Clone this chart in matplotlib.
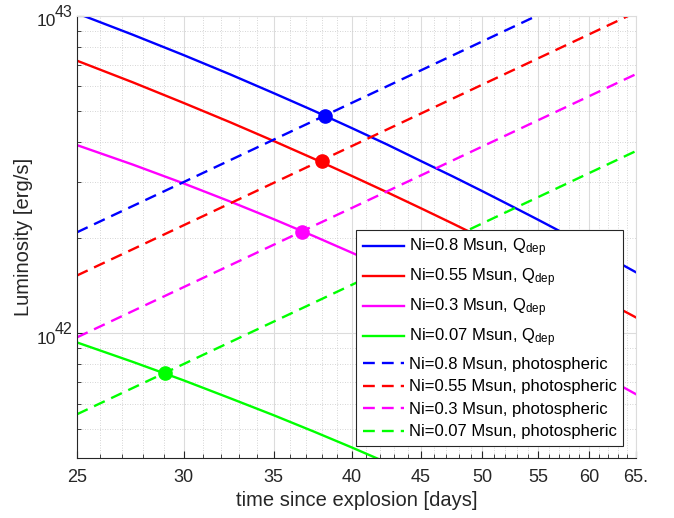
import matplotlib
matplotlib.use('Agg')
import matplotlib.pyplot as plt
from matplotlib.ticker import FixedLocator, NullFormatter

plt.rcParams['font.family'] = ['Liberation Sans', 'DejaVu Sans']
plt.rcParams['mathtext.fontset'] = 'custom'
plt.rcParams['mathtext.rm'] = 'Liberation Sans'
plt.rcParams['mathtext.it'] = 'Liberation Sans:italic'

# days since explosion
days = [25, 27.5, 30, 32.5, 35, 37.5, 40, 42.5, 45, 47.5, 50, 52.5, 55, 57.5, 60, 62.5, 65]

# deposited luminosity Q_dep [erg/s]
qdep_08 = [1.020e43, 8.73e42, 7.53e42, 6.54e42, 5.71e42, 5.02e42, 4.43e42, 3.93e42, 3.49e42,
           3.124e42, 2.802e42, 2.521e42, 2.277e42, 2.062e42, 1.873e42, 1.705e42, 1.556e42]
qdep_055 = [7.23e42, 6.18e42, 5.32e42, 4.62e42, 4.034e42, 3.544e42, 3.130e42, 2.779e42, 2.477e42,
            2.218e42, 1.993e42, 1.797e42, 1.626e42, 1.475e42, 1.343e42, 1.225e42, 1.121e42]
qdep_03 = [3.917e42, 3.401e42, 2.966e42, 2.598e42, 2.287e42, 2.021e42, 1.793e42, 1.597e42, 1.427e42,
           1.279e42, 1.150e42, 1.037e42, 9.376e41, 8.50e41, 7.725e41, 7.036e41, 6.42e41]
qdep_007 = [9.35e41, 8.12e41, 7.10e41, 6.23e41, 5.51e41, 4.89e41, 4.36e41, 3.90e41, 3.50e41,
            3.16e41, 2.86e41, 2.59e41, 2.36e41, 2.15e41, 1.97e41, 1.80e41, 1.66e41]

# photospheric luminosity [erg/s]
phot_08 = [2.08e42, 2.517e42, 2.995e42, 3.515e42, 4.077e42, 4.68e42, 5.325e42, 6.011e42, 6.739e42,
           7.509e42, 8.32e42, 9.173e42, 1.0067e43, 1.100e43, 1.198e43, 1.300e43, 1.406e43]
phot_055 = [1.52e42, 1.839e42, 2.189e42, 2.569e42, 2.979e42, 3.42e42, 3.891e42, 4.393e42, 4.925e42,
            5.487e42, 6.08e42, 6.703e42, 7.357e42, 8.041e42, 8.755e42, 9.5e42, 1.0275e43]
phot_03 = [9.7e41, 1.174e42, 1.397e42, 1.639e42, 1.901e42, 2.183e42, 2.483e42, 2.803e42, 3.143e42,
           3.502e42, 3.88e42, 4.278e42, 4.695e42, 5.131e42, 5.587e42, 6.063e42, 6.557e42]
phot_007 = [5.55e41, 6.716e41, 7.992e41, 9.38e41, 1.088e42, 1.249e42, 1.421e42, 1.604e42, 1.798e42,
            2.004e42, 2.22e42, 2.448e42, 2.686e42, 2.936e42, 3.197e42, 3.469e42, 3.752e42]

# crossing points
cross_t = [38.2, 38.0, 36.7, 29.05]
cross_L = [4.85e42, 3.48e42, 2.09e42, 7.48e41]

labels = ['0.8', '0.55', '0.3', '0.07']
colors = ['#0000ff', '#ff0000', '#ff00ff', '#00ff00']
qdeps = [qdep_08, qdep_055, qdep_03, qdep_007]
phots = [phot_08, phot_055, phot_03, phot_007]

dark = '#262626'

fig = plt.figure(figsize=(6.74, 5.18), dpi=100)
ax = fig.add_axes([0.1142, 0.1158, 0.8294, 0.8533])

for lab, c, q in zip(labels, colors, qdeps):
    ax.plot(days, q, color=c, lw=1.7, label='Ni=%s Msun, Q$_{\\rm dep}$' % lab)
for lab, c, p in zip(labels, colors, phots):
    ax.plot(days, p, color=c, lw=1.7, dashes=(5, 3), label='Ni=%s Msun, photospheric' % lab)
for c, t, L in zip(colors, cross_t, cross_L):
    ax.plot(t, L, 'o', color=c, ms=9.5, zorder=5)

ax.set_xscale('log')
ax.set_yscale('log')
ax.set_xlim(25, 65)
ax.set_ylim(4.04e41, 1e43)

xt = [25, 30, 35, 40, 45, 50, 55, 60, 65]
ax.xaxis.set_major_locator(FixedLocator(xt))
ax.set_xticklabels(['25', '30', '35', '40', '45', '50', '55', '60', '65.'])
ax.xaxis.set_minor_locator(FixedLocator([d for d in range(26, 65) if d % 5 != 0]))
ax.xaxis.set_minor_formatter(NullFormatter())

yt = [1e42, 1e43]
ax.yaxis.set_major_locator(FixedLocator(yt))
ax.set_yticklabels(['', ''])
ax.yaxis.set_minor_locator(FixedLocator([k * 1e41 for k in range(4, 10)] + [k * 1e42 for k in range(2, 10)]))
ax.yaxis.set_minor_formatter(NullFormatter())

# MATLAB-style 10^n labels, exponent overlapping the base
for v, e in zip(yt, ['42', '43']):
    ax.annotate('10', xy=(0, v), xycoords=('axes fraction', 'data'), xytext=(-15, -7.5),
                textcoords='offset points', ha='right', va='baseline', fontsize=12.5,
                color=dark, annotation_clip=False)
    ax.annotate(e, xy=(0, v), xycoords=('axes fraction', 'data'), xytext=(-15.8, -0.8),
                textcoords='offset points', ha='left', va='baseline', fontsize=11.5,
                color=dark, annotation_clip=False)

ax.grid(True, which='major', color='#dcdcdc', lw=0.8, ls='-')
ax.grid(True, which='minor', color='#c8c8c8', lw=0.6, ls=(0, (1, 2)))
ax.set_axisbelow(True)

for s in ['top', 'right']:
    ax.spines[s].set_color('#dcdcdc')
for s in ['left', 'bottom']:
    ax.spines[s].set_color(dark)
ax.tick_params(which='both', direction='in', top=False, right=False, colors=dark, labelsize=13)
ax.tick_params(axis='x', which='major', length=5, pad=8)
ax.tick_params(axis='y', which='major', length=5)
ax.tick_params(which='minor', length=3)

ax.set_xlabel('time since explosion [days]', fontsize=14.5, color=dark)
ax.set_ylabel('Luminosity [erg/s]', fontsize=14.5, color=dark)
ax.xaxis.set_label_coords(0.5, -0.0745)
ax.yaxis.set_label_coords(-0.079, 0.5)

leg = ax.legend(loc='lower right', bbox_to_anchor=(0.977, 0.027), fontsize=12,
                fancybox=False, framealpha=1, edgecolor=dark,
                handlelength=2.5, handletextpad=0.25, labelspacing=0.45,
                borderpad=0.4, borderaxespad=0)
leg.get_frame().set_linewidth(0.8)

fig.savefig('out.png', dpi=100)
